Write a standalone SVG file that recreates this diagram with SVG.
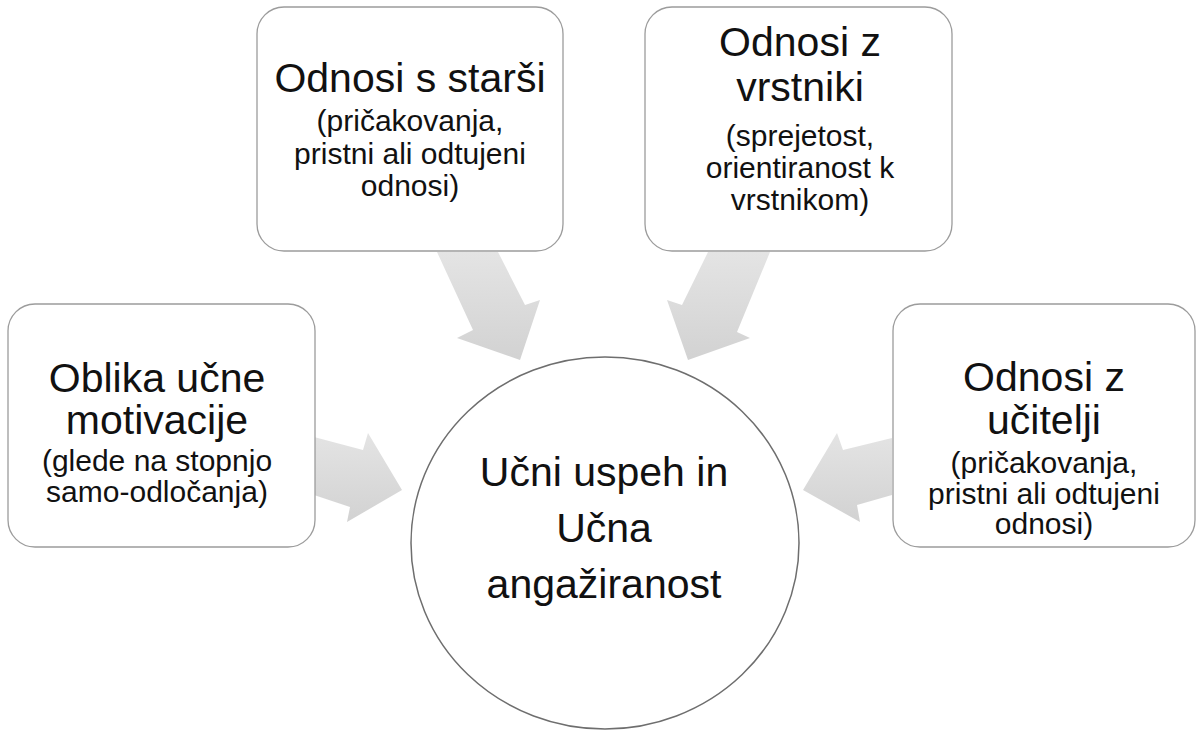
<svg xmlns="http://www.w3.org/2000/svg" width="1200" height="731" viewBox="0 0 1200 731">
<style>
.box{fill:#ffffff;stroke:#9c9c9c;stroke-width:1.3}
.circ{fill:#ffffff;stroke:#6e6e6e;stroke-width:1.5}
.arr{fill:url(#ag);stroke:none}
.t{font-family:"Liberation Sans",Arial,sans-serif;fill:#111;text-anchor:middle}
.big{font-size:41px}
.sm{font-size:30px}
</style>
<defs>
<linearGradient id="ag" x1="0" y1="0" x2="0" y2="1">
<stop offset="0" stop-color="#e4e4e4"/>
<stop offset="1" stop-color="#d2d2d2"/>
</linearGradient>
</defs>
<rect width="1200" height="731" fill="#ffffff"/>
<g id="connectors">
<polygon class="arr" points="314,437 363,450 368,433 402,490 347,522 350,507 314,495"/>
<polygon class="arr" points="892,438 843,450 837,433 803,490 860,522 857,505 892,495"/>
<polygon class="arr" points="437,252 498,252 525,305 540,300 520,360 457,338 473,330"/>
<polygon class="arr" points="708,252 770,252 737,332 750,338 688,360 667,300 682,305"/>
</g>
<g id="node-starsi">
<rect class="box" x="257" y="7" width="306" height="244" rx="27"/>
<text class="t big" x="410" y="92">Odnosi s starši</text>
<text class="t sm" x="410" y="131">(pričakovanja,</text>
<text class="t sm" x="410" y="164">pristni ali odtujeni</text>
<text class="t sm" x="410" y="196">odnosi)</text>
</g>
<g id="node-vrstniki">
<rect class="box" x="645" y="7" width="307" height="244" rx="27"/>
<text class="t big" x="800" y="56">Odnosi z</text>
<text class="t big" x="800" y="101">vrstniki</text>
<text class="t sm" x="800" y="146">(sprejetost,</text>
<text class="t sm" x="800" y="178">orientiranost k</text>
<text class="t sm" x="800" y="210">vrstnikom)</text>
</g>
<g id="node-motivacija">
<rect class="box" x="8" y="304" width="307" height="243" rx="27"/>
<text class="t big" x="157" y="392">Oblika učne</text>
<text class="t big" x="157" y="434">motivacije</text>
<text class="t sm" x="157" y="471">(glede na stopnjo</text>
<text class="t sm" x="157" y="502">samo-odločanja)</text>
</g>
<g id="node-ucitelji">
<rect class="box" x="893" y="304" width="302" height="243" rx="27"/>
<text class="t big" x="1044" y="391">Odnosi z</text>
<text class="t big" x="1044" y="434">učitelji</text>
<text class="t sm" x="1044" y="473">(pričakovanja,</text>
<text class="t sm" x="1044" y="504">pristni ali odtujeni</text>
<text class="t sm" x="1044" y="534">odnosi)</text>
</g>
<g id="node-uspeh">
<ellipse class="circ" cx="605" cy="543" rx="194" ry="186"/>
<text class="t big" x="604" y="486">Učni uspeh in</text>
<text class="t big" x="604" y="542">Učna</text>
<text class="t big" x="604" y="598">angažiranost</text>
</g>
</svg>
